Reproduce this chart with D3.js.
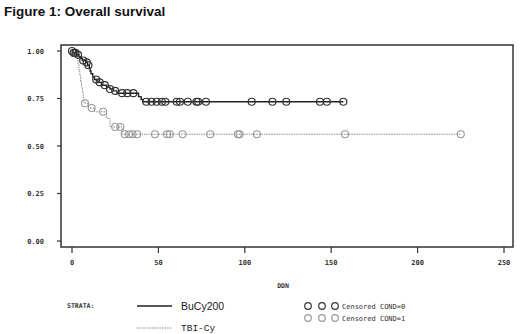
<!DOCTYPE html>
<html>
<head>
<meta charset="utf-8">
<script src="https://cdnjs.cloudflare.com/ajax/libs/d3/7.8.5/d3.min.js"></script>
<style>
  body { margin: 0; background: #fff; }
  svg { display: block; }
</style>
</head>
<body>
<svg id="chart" width="520" height="334"></svg>
<script>
// KM steps: event time (days) and survival after it
const buTimes = [0, 0.5, 2.5, 4, 5, 6, 8, 9, 10, 10.5, 11, 12, 13, 15, 17, 20, 22, 24, 26, 38.5, 40, 41];
const buSurv = [1.0, 0.99, 0.98, 0.97, 0.96, 0.95, 0.94, 0.925, 0.91, 0.895, 0.88, 0.865, 0.85, 0.835, 0.82, 0.81, 0.80, 0.79, 0.778, 0.76, 0.745, 0.733];
const buEnd = 157;
const buCensor = [0, 1, 2, 3.5, 6.5, 8.5, 9.5, 14, 16, 19, 22, 25, 29, 32, 35.5, 43, 46, 49, 52, 54, 60.6, 62.5, 67, 72, 73, 77.5, 104, 116, 124, 143.5, 147.5, 157];

const tbiTimes = [0, 1, 3, 3.5, 4, 4.5, 5, 5.5, 6, 6.5, 7, 9.5, 13, 20, 22, 29];
const tbiSurv = [1.0, 0.985, 0.96, 0.93, 0.9, 0.87, 0.84, 0.81, 0.78, 0.755, 0.725, 0.70, 0.68, 0.645, 0.60, 0.562];
const tbiEnd = 225;
const tbiCensor = [7.5, 11.4, 18, 25, 28, 30.5, 33, 35, 37.7, 48, 55, 56.6, 64, 80, 96, 97, 107, 158, 225];

const xTicks = [0, 50, 100, 150, 200, 250];
const yTicks = [0, 0.25, 0.5, 0.75, 1.0];

const svg = d3.select("#chart");

svg.append("text")
    .attr("x", 4)
    .attr("y", 16)
    .text("Figure 1: Overall survival")
    .style("font-family", "'Liberation Sans', Arial, sans-serif")
    .style("font-size", "13.5px")
    .style("font-weight", "bold")
    .style("fill", "#111");

const x = d3.scaleLinear().domain([0, 250]).range([72, 504]);
const y = d3.scaleLinear().domain([0, 1]).range([241, 51]);

// frame
svg.append("rect")
    .attr("x", 61).attr("y", 45)
    .attr("width", 452).attr("height", 202)
    .style("fill", "none")
    .style("stroke", "#333")
    .style("stroke-width", 1.5);

const tickFont = "'DejaVu Sans Mono', monospace";

const xAxis = svg.append("g").attr("transform", "translate(0,247)");
xAxis.selectAll("line").data(xTicks).enter().append("line")
    .attr("x1", d => x(d)).attr("x2", d => x(d))
    .attr("y1", 0).attr("y2", 6)
    .style("stroke", "#333").style("stroke-width", 1.2);
xAxis.selectAll("text").data(xTicks).enter().append("text")
    .attr("x", d => x(d)).attr("y", 18)
    .attr("text-anchor", "middle")
    .text(d => d)
    .style("font-family", tickFont).style("font-size", "7px")
    .style("font-weight", "bold").style("fill", "#333");

const yAxis = svg.append("g").attr("transform", "translate(61,0)");
yAxis.selectAll("line").data(yTicks).enter().append("line")
    .attr("x1", -4).attr("x2", 0)
    .attr("y1", d => y(d)).attr("y2", d => y(d))
    .style("stroke", "#333").style("stroke-width", 1.2);
yAxis.selectAll("text").data(yTicks).enter().append("text")
    .attr("x", -17).attr("y", d => y(d) + 2.5)
    .attr("text-anchor", "end")
    .text(d => d3.format(".2f")(d))
    .style("font-family", tickFont).style("font-size", "7px")
    .style("font-weight", "bold").style("fill", "#333");

svg.append("text")
    .attr("x", 283).attr("y", 288)
    .attr("text-anchor", "middle")
    .text("DDN")
    .style("font-family", tickFont).style("font-size", "6.5px")
    .style("font-weight", "bold").style("fill", "#333");

function stepPoints(times, surv, end) {
    const pts = times.map((t, i) => [t, surv[i]]);
    pts.push([end, surv[surv.length - 1]]);
    return pts;
}

function survAt(times, surv, t) {
    let v = surv[0];
    times.forEach((tt, i) => { if (tt <= t) v = surv[i]; });
    return v;
}

const line = d3.line()
    .x(d => x(d[0]))
    .y(d => y(d[1]))
    .curve(d3.curveStepAfter);

// TBI-Cy drawn first so the black curve sits on top
svg.append("path")
    .datum(stepPoints(tbiTimes, tbiSurv, tbiEnd))
    .attr("d", line)
    .style("fill", "none")
    .style("stroke", "#8a8a8a")
    .style("stroke-width", 1)
    .style("stroke-dasharray", "1.5,1");

svg.selectAll(".tbi-censor")
    .data(tbiCensor)
    .enter()
    .append("circle")
    .attr("class", "tbi-censor")
    .attr("cx", d => x(d))
    .attr("cy", d => y(survAt(tbiTimes, tbiSurv, d)))
    .attr("r", 3.5)
    .style("fill", "none")
    .style("stroke", "#999")
    .style("stroke-width", 1.1);

svg.append("path")
    .datum(stepPoints(buTimes, buSurv, buEnd))
    .attr("d", line)
    .style("fill", "none")
    .style("stroke", "#222")
    .style("stroke-width", 1.4);

svg.selectAll(".bu-censor")
    .data(buCensor)
    .enter()
    .append("circle")
    .attr("class", "bu-censor")
    .attr("cx", d => x(d))
    .attr("cy", d => y(survAt(buTimes, buSurv, d)))
    .attr("r", 3.5)
    .style("fill", "none")
    .style("stroke", "#333")
    .style("stroke-width", 1.2);

// legend
const legend = svg.append("g");
legend.append("text")
    .attr("x", 67).attr("y", 308)
    .text("STRATA:")
    .style("font-family", tickFont).style("font-size", "6.5px")
    .style("font-weight", "bold").style("fill", "#333");

legend.append("line")
    .attr("x1", 137).attr("x2", 172).attr("y1", 306).attr("y2", 306)
    .style("stroke", "#222").style("stroke-width", 1.4);
legend.append("text")
    .attr("x", 181).attr("y", 310)
    .text("BuCy200")
    .style("font-family", "'Liberation Sans', Arial, sans-serif")
    .style("font-size", "10.5px").style("fill", "#222");

legend.append("line")
    .attr("x1", 137).attr("x2", 172).attr("y1", 328).attr("y2", 328)
    .style("stroke", "#8a8a8a").style("stroke-width", 1)
    .style("stroke-dasharray", "1.5,1");
legend.append("text")
    .attr("x", 181).attr("y", 331)
    .text("TBI-Cy")
    .style("font-family", "'Liberation Mono', 'Courier New', monospace")
    .style("font-size", "9.5px").style("fill", "#222");

const censorKeys = [
    { label: "Censored COND=0", color: "#333", yy: 306 },
    { label: "Censored COND=1", color: "#999", yy: 318 }
];
censorKeys.forEach(k => {
    [308, 322, 335].forEach(cx => {
        legend.append("circle")
            .attr("cx", cx).attr("cy", k.yy).attr("r", 3.3)
            .style("fill", "none").style("stroke", k.color).style("stroke-width", 1.2);
    });
    legend.append("text")
        .attr("x", 342).attr("y", k.yy + 2.5)
        .text(k.label)
        .style("font-family", tickFont).style("font-size", "7px")
        .style("fill", "#333");
});
</script>
</body>
</html>
